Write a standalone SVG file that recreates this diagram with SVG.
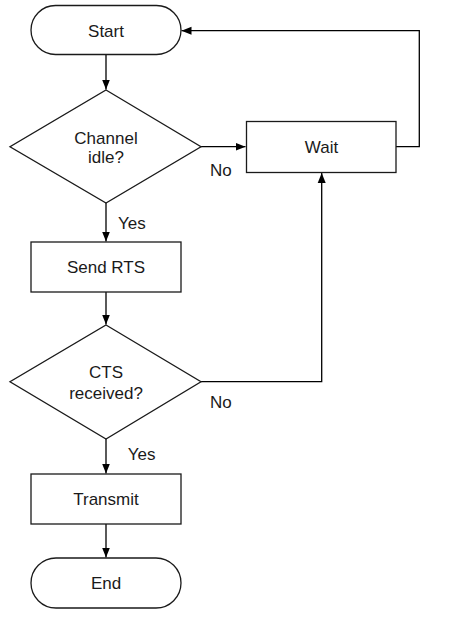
<svg xmlns="http://www.w3.org/2000/svg" width="455" height="620" viewBox="0 0 455 620">
<style>
.shape{fill:#fff;stroke:#1a1a1a;stroke-width:1.3}
.edge{fill:none;stroke:#000;stroke-width:1.3}
text{font-family:"Liberation Sans",Arial,sans-serif;font-size:17px;fill:#1a1a1a}
.c{text-anchor:middle}
</style>
<defs>
<marker id="arr" markerUnits="userSpaceOnUse" markerWidth="11" markerHeight="9" refX="10" refY="4.5" orient="auto">
<path d="M0,0.5 L10,4.5 L0,8.5 z" fill="#000"/>
</marker>
</defs>
<rect width="455" height="620" fill="#fff"/>
<g id="connectors">
<line class="edge" x1="106" y1="54" x2="106" y2="89.5" marker-end="url(#arr)"/>
<line class="edge" x1="201" y1="146.7" x2="245.5" y2="146.7" marker-end="url(#arr)"/>
<polyline class="edge" points="396,146.7 419.3,146.7 419.3,30.7 181.5,30.7" marker-end="url(#arr)"/>
<line class="edge" x1="106" y1="203" x2="106" y2="241.5" marker-end="url(#arr)"/>
<line class="edge" x1="106" y1="292" x2="106" y2="324.5" marker-end="url(#arr)"/>
<polyline class="edge" points="201,381.7 321.7,381.7 321.7,173" marker-end="url(#arr)"/>
<line class="edge" x1="106" y1="439" x2="106" y2="473.5" marker-end="url(#arr)"/>
<line class="edge" x1="106" y1="524" x2="106" y2="557.5" marker-end="url(#arr)"/>
<text x="210" y="176">No</text>
<text x="118" y="229.3">Yes</text>
<text x="210" y="407.7">No</text>
<text x="127.7" y="460">Yes</text>
</g>
<g id="start">
<rect class="shape" x="31" y="5.5" width="150" height="49" rx="24.5" ry="24.5"/>
<text class="c" x="106" y="36.5">Start</text>
</g>
<g id="channel-idle">
<polygon class="shape" points="106,90 201,146.7 106,203 10,146.7"/>
<text class="c" x="106" y="143.5">Channel</text>
<text class="c" x="106" y="162.5">idle?</text>
</g>
<g id="wait">
<rect class="shape" x="246.5" y="121.5" width="149.5" height="51"/>
<text class="c" x="321.5" y="152.7">Wait</text>
</g>
<g id="send-rts">
<rect class="shape" x="31" y="242" width="150" height="50"/>
<text class="c" x="106" y="272.7">Send RTS</text>
</g>
<g id="cts-received">
<polygon class="shape" points="106,325 201,381.7 106,439 10,381.7"/>
<text class="c" x="106" y="378.3">CTS</text>
<text class="c" x="106" y="399.3">received?</text>
</g>
<g id="transmit">
<rect class="shape" x="31" y="474" width="150" height="50"/>
<text class="c" x="106" y="505.3">Transmit</text>
</g>
<g id="end">
<rect class="shape" x="31" y="558" width="150" height="50" rx="25" ry="25"/>
<text class="c" x="106" y="589.3">End</text>
</g>
</svg>
